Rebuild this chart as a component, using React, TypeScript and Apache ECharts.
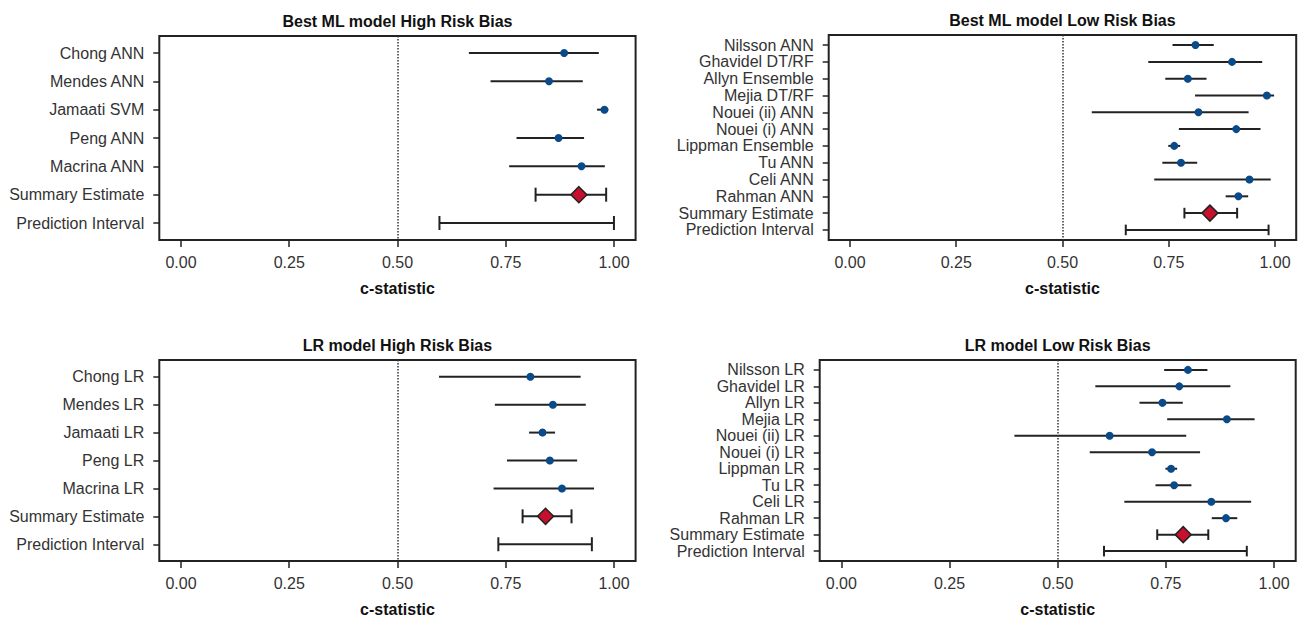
import React, { useEffect, useRef } from "react";
import * as echarts from "echarts";

// ---------- data ----------
const xTicks = [0, 0.25, 0.5, 0.75, 1.0];
const xTitle = "c-statistic";

const p1Title = "Best ML model High Risk Bias";
const p1Names = ["Chong ANN", "Mendes ANN", "Jamaati SVM", "Peng ANN", "Macrina ANN", "Summary Estimate", "Prediction Interval"];
const p1Est = [0.885, 0.85, 0.978, 0.872, 0.925, 0.919, null];
const p1Lo = [0.665, 0.715, 0.961, 0.775, 0.758, 0.819, 0.597];
const p1Hi = [0.965, 0.928, 0.987, 0.931, 0.979, 0.982, 1.0];

const p2Title = "Best ML model Low Risk Bias";
const p2Names = ["Nilsson ANN", "Ghavidel DT/RF", "Allyn Ensemble", "Mejia DT/RF", "Nouei (ii) ANN", "Nouei (i) ANN", "Lippman Ensemble", "Tu ANN", "Celi ANN", "Rahman ANN", "Summary Estimate", "Prediction Interval"];
const p2Est = [0.813, 0.899, 0.795, 0.981, 0.82, 0.909, 0.763, 0.779, 0.94, 0.914, 0.847, null];
const p2Lo = [0.759, 0.702, 0.742, 0.812, 0.569, 0.774, 0.749, 0.735, 0.716, 0.884, 0.787, 0.649];
const p2Hi = [0.856, 0.97, 0.839, 0.998, 0.938, 0.966, 0.777, 0.817, 0.99, 0.937, 0.911, 0.985];

const p3Title = "LR model High Risk Bias";
const p3Names = ["Chong LR", "Mendes LR", "Jamaati LR", "Peng LR", "Macrina LR", "Summary Estimate", "Prediction Interval"];
const p3Est = [0.807, 0.859, 0.835, 0.852, 0.88, 0.842, null];
const p3Lo = [0.596, 0.725, 0.804, 0.753, 0.722, 0.789, 0.733];
const p3Hi = [0.923, 0.935, 0.864, 0.915, 0.954, 0.902, 0.949];

const p4Title = "LR model Low Risk Bias";
const p4Names = ["Nilsson LR", "Ghavidel LR", "Allyn LR", "Mejia LR", "Nouei (ii) LR", "Nouei (i) LR", "Lippman LR", "Tu LR", "Celi LR", "Rahman LR", "Summary Estimate", "Prediction Interval"];
const p4Est = [0.801, 0.781, 0.742, 0.891, 0.62, 0.718, 0.762, 0.769, 0.855, 0.889, 0.79, null];
const p4Lo = [0.746, 0.587, 0.689, 0.753, 0.4, 0.574, 0.749, 0.726, 0.654, 0.856, 0.73, 0.607];
const p4Hi = [0.846, 0.899, 0.789, 0.955, 0.797, 0.829, 0.776, 0.809, 0.947, 0.915, 0.848, 0.937];

const refLine = 0.5;

// ---------- layout / style ----------
const FONT = "'Liberation Sans', Arial, Helvetica, sans-serif";
const DOT = "#0a4a88";
const DIAMOND = "#c8102e";
const INK = "#222222";
const LABEL = "#333333";

type Panel = {
  title: string;
  names: string[];
  est: (number | null)[];
  lo: number[];
  hi: number[];
  left: number;
  top: number;
  width: number;
  height: number;
  capHalf: number;
};

const panels: Panel[] = [
  { title: p1Title, names: p1Names, est: p1Est, lo: p1Lo, hi: p1Hi, left: 159.3, top: 36, width: 476.3, height: 204, capHalf: 7 },
  { title: p2Title, names: p2Names, est: p2Est, lo: p2Lo, hi: p2Hi, left: 828.7, top: 35, width: 467.5, height: 205, capHalf: 5.3 },
  { title: p3Title, names: p3Names, est: p3Est, lo: p3Lo, hi: p3Hi, left: 159.3, top: 360, width: 476.3, height: 205, capHalf: 7 },
  { title: p4Title, names: p4Names, est: p4Est, lo: p4Lo, hi: p4Hi, left: 819.7, top: 360, width: 476, height: 204.5, capHalf: 5.3 },
];

function buildOption() {
  const grid: any[] = [];
  const xAxis: any[] = [];
  const yAxis: any[] = [];
  const series: any[] = [];
  const graphic: any[] = [];

  panels.forEach((p, i) => {
    const n = p.names.length;
    const idx = p.names.map((_, k) => k);
    grid.push({
      left: p.left,
      top: p.top,
      width: p.width,
      height: p.height,
      show: true,
      borderColor: INK,
      borderWidth: 2,
      backgroundColor: "transparent",
      containLabel: false,
    });
    xAxis.push({
      gridIndex: i,
      type: "value",
      position: "bottom",
      min: -0.05,
      max: 1.05,
      splitLine: { show: false },
      axisLine: { show: false, onZero: false },
      axisTick: { show: true, inside: false, customValues: xTicks, length: 7, lineStyle: { color: INK, width: 1.5 } },
      axisLabel: {
        customValues: xTicks,
        formatter: (v: number) => v.toFixed(2),
        color: LABEL,
        fontFamily: FONT,
        fontSize: 16,
        margin: 14,
      },
      name: xTitle,
      nameLocation: "middle",
      nameGap: 40,
      nameTextStyle: { fontFamily: FONT, fontSize: 16, fontWeight: "bold", color: "#111" },
    });
    yAxis.push({
      gridIndex: i,
      type: "value",
      position: "left",
      inverse: true,
      min: -0.6,
      max: n - 1 + 0.6,
      splitLine: { show: false },
      axisLine: { show: false, onZero: false },
      axisTick: { show: true, inside: false, customValues: idx, length: 6, lineStyle: { color: INK, width: 1.5 } },
      axisLabel: {
        customValues: idx,
        formatter: (v: number) => p.names[Math.round(v)] ?? "",
        color: LABEL,
        fontFamily: FONT,
        fontSize: 16,
        margin: 15,
      },
    });

    const whiskers = p.names.map((name, k) => [k, p.lo[k], p.hi[k], name === "Summary Estimate" || name === "Prediction Interval" ? 1 : 0]);
    const capHalf = p.capHalf;
    series.push({
      type: "custom",
      xAxisIndex: i,
      yAxisIndex: i,
      z: 2,
      silent: true,
      encode: { x: [1, 2], y: 0 },
      data: whiskers,
      renderItem: (params: any, api: any) => {
        const k = api.value(0);
        const a = api.coord([api.value(1), k]);
        const b = api.coord([api.value(2), k]);
        const st = { stroke: INK, lineWidth: 2 };
        const children: any[] = [
          { type: "line", shape: { x1: a[0], y1: a[1], x2: b[0], y2: b[1] }, style: st },
        ];
        if (api.value(3) === 1) {
          children.push({ type: "line", shape: { x1: a[0], y1: a[1] - capHalf, x2: a[0], y2: a[1] + capHalf }, style: st });
          children.push({ type: "line", shape: { x1: b[0], y1: b[1] - capHalf, x2: b[0], y2: b[1] + capHalf }, style: st });
        }
        return { type: "group", children };
      },
    });

    const studyPts: any[] = [];
    const summaryPts: any[] = [];
    p.names.forEach((name, k) => {
      const e = p.est[k];
      if (e == null) return;
      if (name === "Summary Estimate") summaryPts.push([e, k]);
      else studyPts.push([e, k]);
    });

    series.push({
      type: "scatter",
      xAxisIndex: i,
      yAxisIndex: i,
      z: 3,
      silent: true,
      symbol: "circle",
      symbolSize: 8,
      itemStyle: { color: DOT, opacity: 1 },
      data: studyPts,
      markLine: {
        silent: true,
        symbol: ["none", "none"],
        label: { show: false },
        lineStyle: { color: "#333", type: [1.5, 1.5], width: 1.5 },
        data: [{ xAxis: refLine }],
      },
    });
    series.push({
      type: "scatter",
      xAxisIndex: i,
      yAxisIndex: i,
      z: 4,
      silent: true,
      symbol: "diamond",
      symbolSize: [16, 16],
      itemStyle: { color: DIAMOND, borderColor: INK, borderWidth: 1.5, opacity: 1 },
      data: summaryPts,
    });

    graphic.push({
      type: "text",
      x: p.left + p.width / 2,
      y: p.top - 15,
      style: {
        text: p.title,
        fill: "#111",
        font: `bold 16px ${FONT}`,
        align: "center",
        verticalAlign: "middle",
      },
    });
  });

  return { animation: false, backgroundColor: "#ffffff", grid, xAxis, yAxis, series, graphic };
}

export default function App() {
  const ref = useRef<HTMLDivElement>(null);
  useEffect(() => {
    if (!ref.current) return;
    const chart = echarts.init(ref.current, undefined, { renderer: "svg" });
    chart.setOption(buildOption() as any);
    return () => chart.dispose();
  }, []);
  return <div ref={ref} style={{ position: "fixed", left: 0, top: 0, width: 1303, height: 618, background: "#fff" }} />;
}
